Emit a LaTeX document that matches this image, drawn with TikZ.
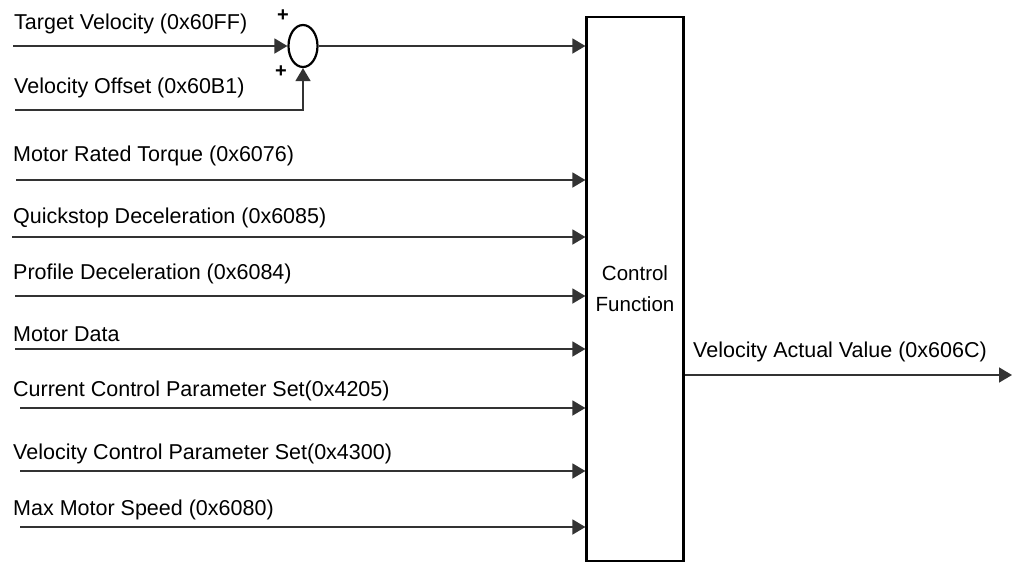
\documentclass[tikz,border=0pt]{standalone}
\usepackage{fontspec}
\setmainfont{Liberation Sans}
\usetikzlibrary{arrows.meta,shapes.geometric}
\begin{document}
\begin{tikzpicture}[x=1pt,y=-1pt,
  sig/.style={draw=black!80, line width=1.6pt, -{Triangle[length=13pt,width=15pt]}},
  lbl/.style={anchor=base west, inner sep=0pt, font=\fontsize{21.5}{24}\selectfont},
  plus/.style={inner sep=0pt, font=\bfseries\fontsize{20}{20}\selectfont},
  box/.style={draw=black, line width=2.2pt, minimum width=97pt, minimum height=544pt, inner sep=0pt, align=center, font=\fontsize{20.5}{31}\selectfont},
  sumnode/.style={draw=black, ellipse, line width=2.2pt, minimum width=29pt, minimum height=42pt, inner sep=0pt}]
\useasboundingbox (0,0) rectangle (1012,563);
\fill[white] (0,0) rectangle (1012,563);

\node[box] (cf) at (635,289) {Control\\Function};
\node[sumnode] (sum) at (303,46) {};
\node[plus] (p1) at (283,16) {+};
\node[plus] (p2) at (281,72) {+};

% labels
\node[lbl] (l0) at (14,29) {Target Velocity (0x60FF)};
\node[lbl] (l1) at (14,93) {Velocity Offset (0x60B1)};
\node[lbl] (l2) at (13,161) {Motor Rated Torque (0x6076)};
\node[lbl] (l3) at (13,223) {Quickstop Deceleration (0x6085)};
\node[lbl] (l4) at (13,279) {Profile Deceleration (0x6084)};
\node[lbl] (l5) at (13,341) {Motor Data};
\node[lbl] (l6) at (13,396) {Current Control Parameter Set(0x4205)};
\node[lbl] (l7) at (13,459) {Velocity Control Parameter Set(0x4300)};
\node[lbl] (l8) at (13,515) {Max Motor Speed (0x6080)};
\node[lbl] (lo) at (693,357) {Velocity Actual Value (0x606C)};

% start coordinates
\coordinate (t0) at (13,46);
\coordinate (o0) at (15,110);
\coordinate (s2) at (16,180);
\coordinate (s3) at (12,237);
\coordinate (s4) at (15,296);
\coordinate (s5) at (15,349);
\coordinate (s6) at (20,408);
\coordinate (s7) at (20,471);
\coordinate (s8) at (20,527);
\coordinate (out) at (1012,375);

\draw[sig] (t0) -- (sum.west);
\draw[sig] (o0) -| (sum.south);
\draw[sig] (sum.east) -- (sum.east -| cf.west);
\foreach \s in {s2,s3,s4,s5,s6,s7,s8}
  \draw[sig] (\s) -- (\s -| cf.west);
\draw[sig] (out -| cf.east) -- (out);
\end{tikzpicture}
\end{document}
